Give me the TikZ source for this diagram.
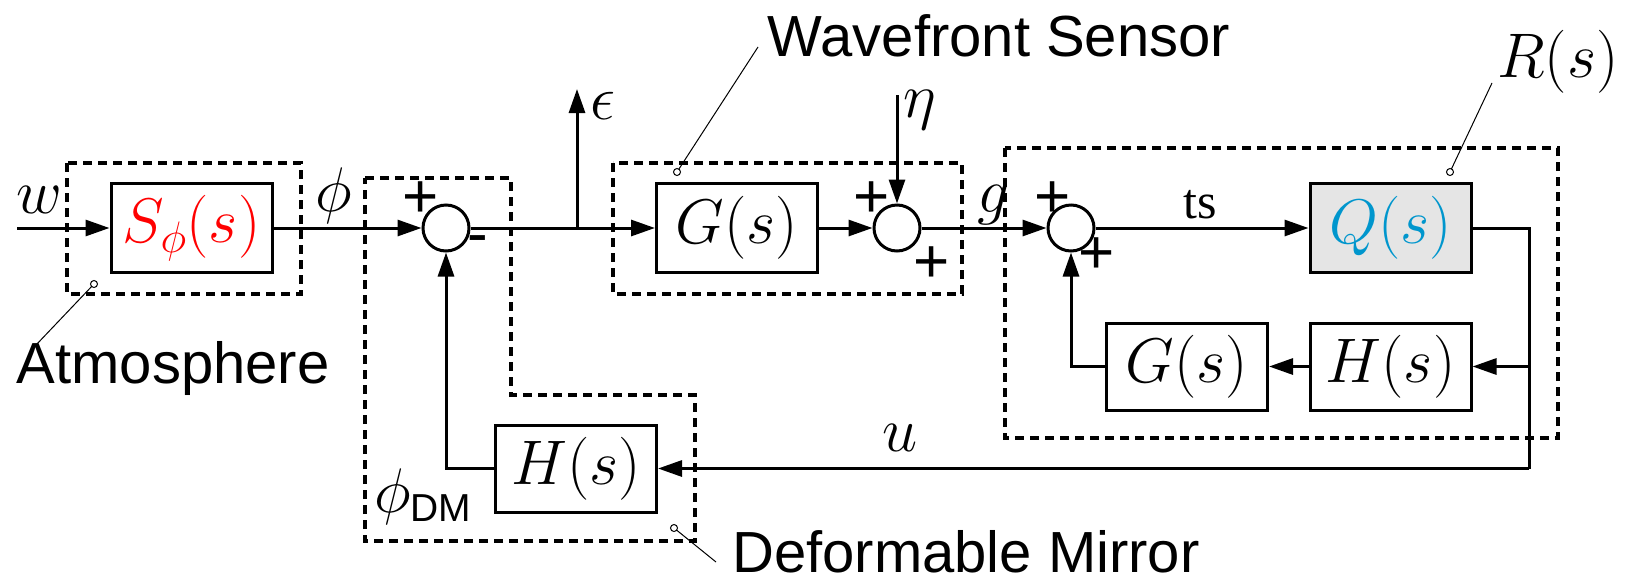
\RequirePackage{fix-cm}
\documentclass[tikz,border=0pt]{standalone}
\usepackage{fontspec}
\newfontfamily\lab{Liberation Sans}
\newfontfamily\tms{Liberation Serif}
\usetikzlibrary{arrows.meta}
\definecolor{qblue}{RGB}{0,150,205}
\begin{document}
\begin{tikzpicture}[x=1pt,y=-1pt,
  blk/.style={draw,line width=3pt,minimum width=161pt,minimum height=89pt,inner sep=0pt,font=\fontsize{63}{75}\selectfont},
  sumc/.style={draw,circle,line width=3pt,minimum size=46pt,inner sep=0pt},
  conn/.style={line width=3pt},
  arr/.style={conn,-{Triangle[length=24pt,width=16pt]}},
  grp/.style={line width=3.5pt,dash pattern=on 9pt off 6pt},
  lead/.style={line width=1pt},
  tip/.style={line width=1pt,fill=white},
  mth/.style={font=\fontsize{63}{75}\selectfont,inner sep=0pt},
  sans/.style={font=\lab\fontsize{58}{70}\selectfont,inner sep=0pt},
  sgn/.style={font=\lab\fontsize{62}{70}\selectfont,inner sep=0pt},
]
\useasboundingbox (0,0) rectangle (1625,582);

% group outlines
\draw[grp] (67,163) rectangle (301,294);
\draw[grp] (365,178) -- (511,178) -- (511,395) -- (695,395) -- (695,541) -- (365,541) -- cycle;
\draw[grp] (613,163) rectangle (962,294);
\draw[grp] (1005,148) rectangle (1558,438);

% blocks
\node[blk] (S) at (191.5,228) {\color{red}$S_\phi(s)$};
\node[blk] (G1) at (737,228) {$G(s)$};
\node[blk,fill=black!10] (Q) at (1390.5,228) {\color{qblue}$Q(s)$};
\node[blk,minimum height=87pt] (G2) at (1187,366.5) {$G(s)$};
\node[blk,minimum height=87pt] (H2) at (1390.5,366.5) {$H(s)$};
\node[blk,minimum height=87pt] (H1) at (576,468.5) {$H(s)$};

% summing junctions
\node[sumc] (s1) at (446,228) {};
\node[sumc] (s2) at (897,228) {};
\node[sumc] (s3) at (1071,228) {};

% coordinates
\coordinate (win) at (17,228);
\coordinate (eb) at (577,228);
\coordinate (eps) at (577,89);
\coordinate (eta) at (897,95);
\coordinate (qr) at (1529,228);
\coordinate (hb) at (1529,366.5);
\coordinate (ub) at (1529,468.5);

% connectors
\draw[arr] (win) -- (S.west);
\draw[arr] (S.east) -- (s1.west);
\draw[arr] (s1.east) -- (G1.west);
\draw[arr] (eb) -- (eps);
\draw[arr] (G1.east) -- (s2.west);
\draw[arr] (eta) -- (s2.north);
\draw[arr] (s2.east) -- (s3.west);
\draw[arr] (s3.east) -- (Q.west);
\draw[conn] (Q.east) -- (qr) -- (ub);
\draw[arr] (ub) -- (H1.east);
\draw[arr] (hb) -- (H2.east);
\draw[arr] (H2.west) -- (G2.east);
\draw[arr] (G2.west) -| (s3.south);
\draw[arr] (H1.west) -| (s1.south);

% signal labels
\node[mth] (lw) at (39,200) {$w$};
\node[mth] (lphi) at (334,196) {$\phi$};
\node[mth] (leps) at (603,106) {$\epsilon$};
\node[mth] (leta) at (920,110) {$\eta$};
\node[mth] (lg) at (993,205) {$g$};
\node[font=\tms\fontsize{50}{60}\selectfont,inner sep=0pt] (lts) at (1200,205) {ts};
\node[mth] (lu) at (900,438) {$u$};
\node[mth] (lR) at (1558,62) {$R(s)$};
\node[mth,anchor=base west] (lpdm) at (374,512) {$\phi_{\hbox{\lab\fontsize{39}{45}\selectfont DM}}$};

% signs
\node[sgn] (p1) at (421,200) {+};
\node[sgn] (m1) at (478,245) {-};
\node[sgn] (p2) at (872,200) {+};
\node[sgn] (p3) at (932,265) {+};
\node[sgn] (p4) at (1053,200) {+};
\node[sgn] (p5) at (1097,256) {+};

% group labels and leaders
\node[sans] (atm) at (173,368) {Atmosphere};
\node[sans] (wfs) at (999,36) {Wavefront Sensor};
\node[sans] (dm) at (966,552) {Deformable Mirror};

\coordinate (ca) at (94,284);
\coordinate (ea) at (36,345);
\coordinate (cw) at (677,172);
\coordinate (ew) at (758,47);
\coordinate (cr) at (1450,172);
\coordinate (er) at (1492,83);
\coordinate (cd) at (674,528);
\coordinate (ed) at (716,562);
\draw[lead] (ea) -- (ca);
\draw[lead] (ew) -- (cw);
\draw[lead] (er) -- (cr);
\draw[lead] (ed) -- (cd);
\draw[tip] (ca) circle (3.5pt);
\draw[tip] (cw) circle (3.5pt);
\draw[tip] (cr) circle (3.5pt);
\draw[tip] (cd) circle (3.5pt);
\end{tikzpicture}
\end{document}
